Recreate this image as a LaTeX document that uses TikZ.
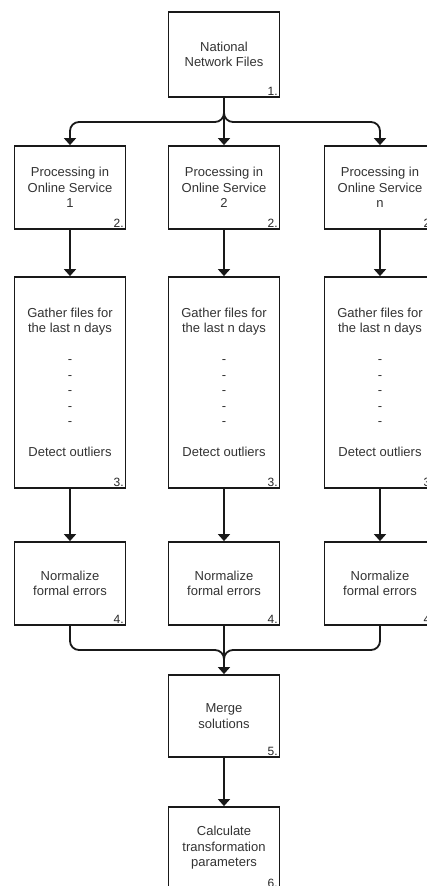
\documentclass[tikz,border=0pt]{standalone}
\usepackage{fontspec}
\setmainfont{Liberation Sans}
\usetikzlibrary{arrows.meta,calc}

\begin{document}
\begin{tikzpicture}[x=1pt,y=-1pt,
  box/.style={draw=black!90, line width=1.8pt, rectangle, minimum width=111pt,
    minimum height=83pt, align=center, text=black!80, inner sep=0pt,
    font=\fontsize{13}{15.5}\selectfont},
  num/.style={anchor=south east, inner sep=2.5pt, text=black!85,
    font=\fontsize{12}{14}\selectfont},
  conn/.style={draw=black!90, line width=1.8pt, rounded corners=9pt,
    -{Triangle[width=12pt,length=7pt]}},
  link/.style={draw=black!90, line width=1.8pt, rounded corners=9pt}]

\clip (0,0) rectangle (427,886);
\fill[white] (0,0) rectangle (427,886);

% top box
\node[box, minimum height=85pt] (b1) at (224,54.5) {National\\Network Files};
\node[num] (n1) at (b1.south east) {1.};

% three processing columns
\foreach \c/\x/\s in {l/70/1, m/224/2, r/380/n}{
  \node[box] (b2\c) at (\x,187.5) {Processing in\\Online Service\\\s};
  \node[num] (n2\c) at (b2\c.south east) {2.};
  \node[box, minimum height=211pt] (b3\c) at (\x,382.5)
    {Gather files for\\the last n days\\ \\-\\-\\-\\-\\-\\ \\Detect outliers};
  \node[num] (n3\c) at (b3\c.south east) {3.};
  \node[box] (b4\c) at (\x,583.5) {Normalize\\formal errors};
  \node[num] (n4\c) at (b4\c.south east) {4.};
  \draw[conn] (b2\c) -- (b3\c);
  \draw[conn] (b3\c) -- (b4\c);
}

% merge and final steps
\node[box, minimum height=82pt] (b5) at (224,716) {Merge\\solutions};
\node[num] (n5) at (b5.south east) {5.};
\node[box, minimum height=82pt] (b6) at (224,848) {Calculate\\transformation\\parameters};
\node[num] (n6) at (b6.south east) {6.};

\coordinate (split) at (224,122);
\coordinate (merge) at (224,650);

% fan-out from the source files
\draw[conn] (b1.south) -- (split) -| (b2l.north);
\draw[conn] (b1.south) -- (split) -| (b2r.north);
\draw[conn] (b1.south) -- (b2m.north);

% fan-in to the merge step
\draw[link] (b4l.south) |- (merge) -- ($(merge)!0.5!(b5.north)$);
\draw[link] (b4r.south) |- (merge) -- ($(merge)!0.5!(b5.north)$);
\draw[conn] (b4m.south) -- (b5.north);

\draw[conn] (b5) -- (b6);
\end{tikzpicture}
\end{document}
